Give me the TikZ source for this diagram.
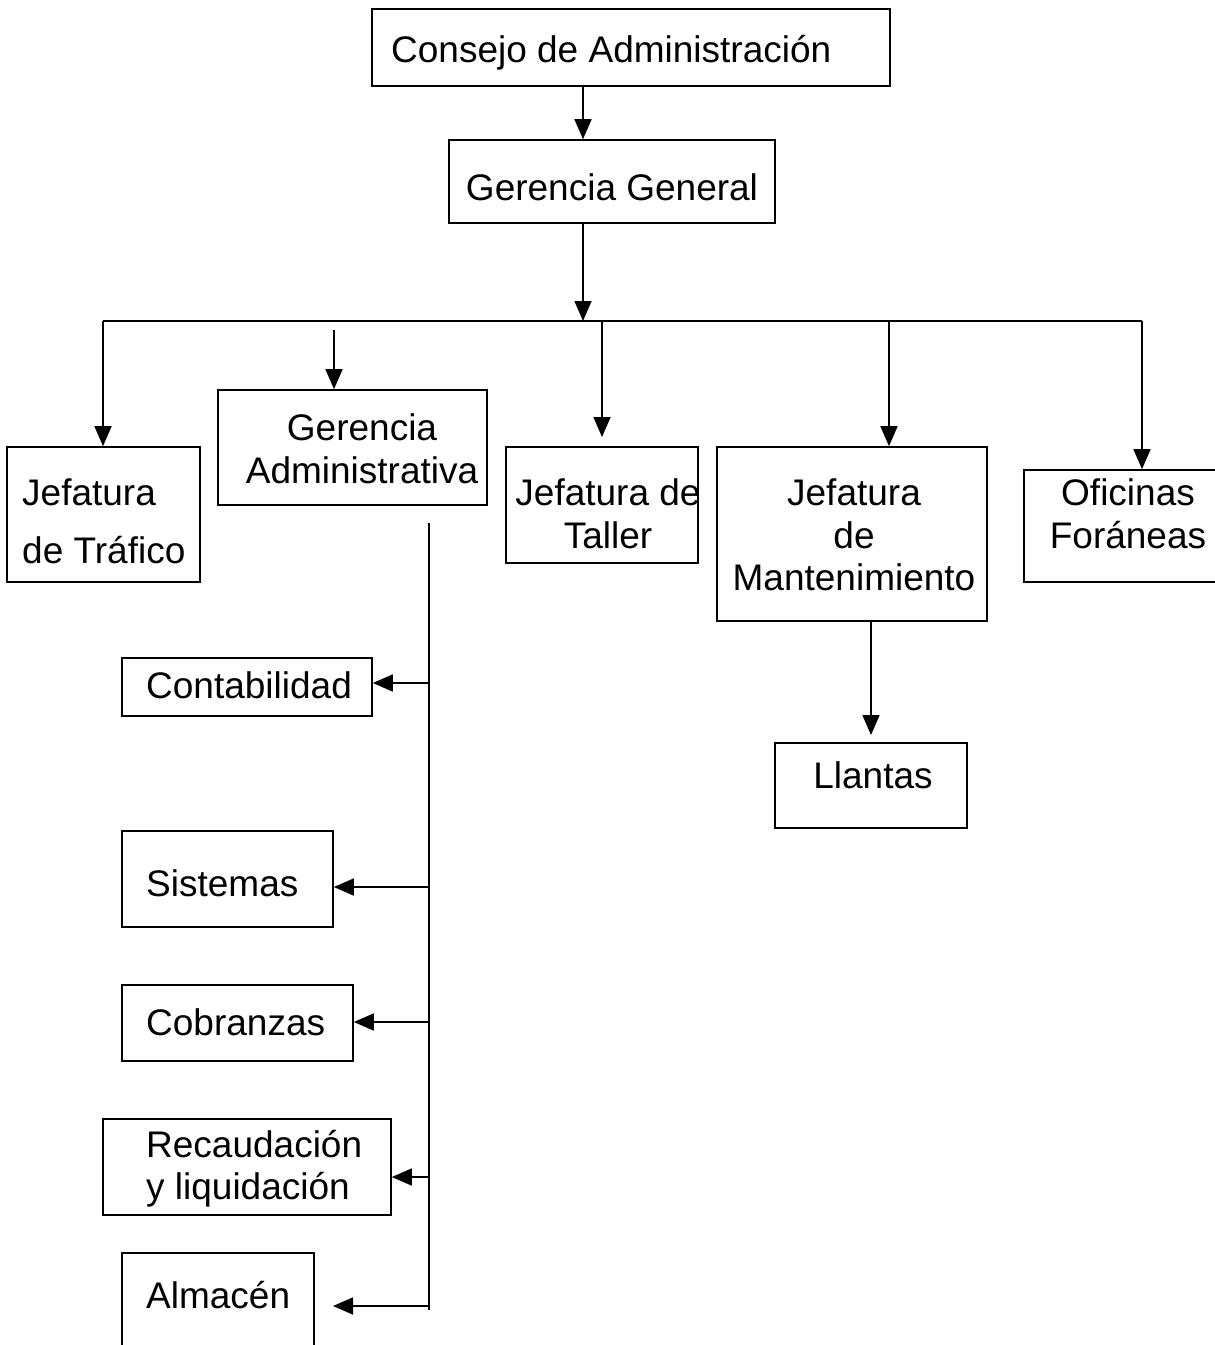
\documentclass[tikz,border=0pt]{standalone}
\usepackage{fontspec}
\setmainfont{Liberation Sans}
\usetikzlibrary{arrows.meta}
\begin{document}
\begin{tikzpicture}[x=1pt,y=-1pt,
  box/.style={draw,line width=1.6pt,inner sep=0pt,rectangle},
  lbl/.style={inner sep=0pt,font=\fontsize{37}{43}\selectfont},
  ln/.style={line width=1.6pt},
  arr/.style={line width=1.6pt,-{Triangle[length=20pt,width=17pt]}}]
\useasboundingbox (0,0) rectangle (1215,1345);
\clip (0,0) rectangle (1215,1345);
\fill[white] (0,0) rectangle (1215,1345);
% boxes
\node[box,minimum width=518pt,minimum height=77pt] (cons) at (631,47.5) {};
\node[box,minimum width=326pt,minimum height=83pt] (gg) at (612,181.5) {};
\node[box,minimum width=193pt,minimum height=135pt] (traf) at (103.5,514.5) {};
\node[box,minimum width=269pt,minimum height=115pt] (adm) at (352.5,447.5) {};
\node[box,minimum width=192pt,minimum height=116pt] (tall) at (602,505) {};
\node[box,minimum width=270pt,minimum height=174pt] (mant) at (852,534) {};
\node[box,minimum width=206pt,minimum height=112pt] (ofi) at (1127,526) {};
\node[box,minimum width=192pt,minimum height=85pt] (llan) at (871,785.5) {};
\node[box,minimum width=250pt,minimum height=58pt] (cont) at (247,687) {};
\node[box,minimum width=211pt,minimum height=96pt] (sist) at (227.5,879) {};
\node[box,minimum width=231pt,minimum height=76pt] (cob) at (237.5,1023) {};
\node[box,minimum width=288pt,minimum height=96pt] (rec) at (247,1167) {};
\node[box,minimum width=192pt,minimum height=147pt] (alm) at (218,1326.5) {};
% texts
\node[lbl,anchor=base west] (tcons) at (391,62) {Consejo de Administración};
\node[lbl,anchor=base] (tgg) at (612,200) {Gerencia General};
\node[lbl,anchor=base west] (ttraf1) at (22,505) {Jefatura};
\node[lbl,anchor=base west] (ttraf2) at (22,563) {de Tráfico};
\node[lbl,anchor=base] (tadm1) at (362,440) {Gerencia};
\node[lbl,anchor=base] (tadm2) at (362,483) {Administrativa};
\node[lbl,anchor=base] (ttall1) at (608,505) {Jefatura de};
\node[lbl,anchor=base] (ttall2) at (608,548) {Taller};
\node[lbl,anchor=base] (tmant1) at (854,505) {Jefatura};
\node[lbl,anchor=base] (tmant2) at (854,548) {de};
\node[lbl,anchor=base] (tmant3) at (854,590) {Mantenimiento};
\node[lbl,anchor=base] (tofi1) at (1128,505) {Oficinas};
\node[lbl,anchor=base] (tofi2) at (1128,548) {Foráneas};
\node[lbl,anchor=base] (tllan) at (873,788) {Llantas};
\node[lbl,anchor=base west] (tcont) at (146,698) {Contabilidad};
\node[lbl,anchor=base west] (tsist) at (146,896) {Sistemas};
\node[lbl,anchor=base west] (tcob) at (146,1035) {Cobranzas};
\node[lbl,anchor=base west] (trec1) at (146,1157) {Recaudación};
\node[lbl,anchor=base west] (trec2) at (146,1199) {y liquidación};
\node[lbl,anchor=base west] (talm) at (146,1308) {Almacén};
% coordinates
\coordinate (busc) at (583,321);
\coordinate (bus1) at (103,321);
\coordinate (bus3) at (602,321);
\coordinate (bus4) at (889,321);
\coordinate (bus5) at (1142,321);
\coordinate (tallin) at (602,437);
\coordinate (llanin) at (871,735);
\coordinate (admst) at (334,330);
\coordinate (spt) at (429,523);
\coordinate (spb) at (429,1310);
\coordinate (b1) at (429,683);
\coordinate (b2) at (429,887);
\coordinate (b3) at (429,1022);
\coordinate (b4) at (429,1177);
\coordinate (b5) at (429,1306);
\coordinate (almin) at (333,1306);
% connectors
\draw[arr] (cons.south -| busc) -- (gg.north -| busc);
\draw[arr] (gg.south -| busc) -- (busc);
\draw[ln] (bus1) -- (bus5);
\draw[arr] (bus1) -- (bus1 |- traf.north);
\draw[arr] (bus3) -- (tallin);
\draw[arr] (bus4) -- (bus4 |- mant.north);
\draw[arr] (bus5) -- (bus5 |- ofi.north);
\draw[arr] (admst) -- (admst |- adm.north);
\draw[arr] (mant.south -| llanin) -- (llanin);
\draw[ln] (spt) -- (spb);
\draw[arr] (b1) -- (b1 -| cont.east);
\draw[arr] (b2) -- (b2 -| sist.east);
\draw[arr] (b3) -- (b3 -| cob.east);
\draw[arr] (b4) -- (b4 -| rec.east);
\draw[arr] (b5) -- (almin);
\end{tikzpicture}
\end{document}
